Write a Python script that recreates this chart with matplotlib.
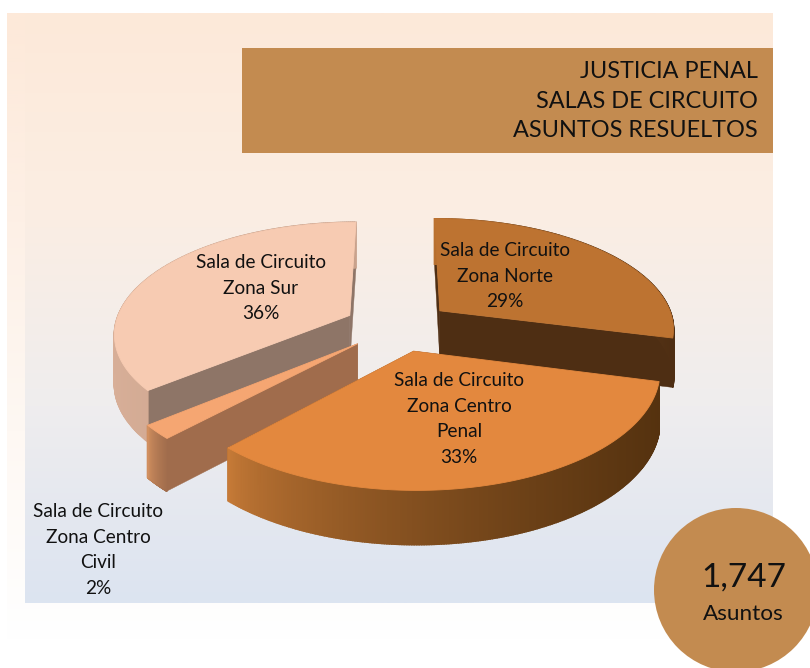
#pie 3d style, drawn by hand since matplotlib has no exploded 3d pie
import matplotlib
matplotlib.use('Agg')
import matplotlib.pyplot as plt
import numpy as np
from matplotlib.colors import LinearSegmentedColormap, to_rgb
from matplotlib.patches import Circle, Rectangle

names=['Sala de Circuito\nZona Norte','Sala de Circuito\nZona Centro\nPenal','Sala de Circuito\nZona Centro\nCivil','Sala de Circuito\nZona Sur']
values=[29,33,2,36]
title_lines=['JUSTICIA PENAL','SALAS DE CIRCUITO','ASUNTOS RESUELTOS']
total='1,747'
total_label='Asuntos'

top_colors=['#BD7331','#E3883E','#F5A672','#F7CBB2']
wall_colors=['#4E2E13','#4E2E13','#A06C4C','#8E7567']
side_left=['#BD7331','#C97C38','#D2905F','#D8AF98']
side_right=['#4E2E13','#55320F','#A06C4C','#C9A28C']
label_pos=[(505,276),(459,419),(98,550),(261,288)]

plt.rcParams['font.family']=['Lato','DejaVu Sans']
fig=plt.figure(figsize=(8.1,6.68),dpi=100)
ax=fig.add_axes([0,0,1,1])
ax.set_xlim(0,810)
ax.set_ylim(668,0)
ax.axis('off')

# backgrounds
fade=LinearSegmentedColormap.from_list('fade',['#FDE9D9','#FDF0E6','#FEF8F3','#FFFFFF'])
panel=LinearSegmentedColormap.from_list('panel',['#FDE9D9','#FBEEE3','#EFEDEE','#DCE4F1'])
grad=np.linspace(0,1,256).reshape(-1,1)
ax.imshow(grad,cmap=fade,extent=(7,773,640,13),aspect='auto',zorder=0)
ax.imshow(grad,cmap=panel,extent=(25,773,603,13),aspect='auto',zorder=1)
ax.set_xlim(0,810)
ax.set_ylim(668,0)

# projection of the pie plane on to the screen
cx,cy=398,326
b,a,k=235,110,0.15
explode=0.23
depth=49

def project(u,v):
    w=1-k*v
    return cx+b*u/w,cy+a*v/w,depth/np.sqrt(w)

def shade(c1,c2,t):
    return tuple((1-t)*np.array(to_rgb(c1))+t*np.array(to_rgb(c2)))

edges=np.cumsum([0]+values)/sum(values)*2*np.pi
# back slices first, front slice last
order=[3,0,2,1]
for i in order:
    a0,a1=edges[i],edges[i+1]
    mid=(a0+a1)/2
    ou,ov=explode*np.sin(mid),-explode*np.cos(mid)
    th=np.linspace(a0,a1,240)
    x,y,d=project(ou+np.sin(th),ov-np.cos(th))
    x0,y0,d0=project(ou,ov)
    z=3+order.index(i)
    # walls
    for j in [0,-1]:
        ax.fill([x0,x[j],x[j],x0],[y0,y[j],y[j]+d[j],y0+d0],color=wall_colors[i],lw=0.3,zorder=z)
    # outer side, a colour step for each strip
    left,right=x.min(),x.max()
    for j in range(len(th)-1):
        t=((x[j]+x[j+1])/2-left)/max(right-left,1)
        c=shade(side_left[i],side_right[i],t**0.6)
        ax.fill([x[j],x[j+1],x[j+1],x[j]],[y[j],y[j+1],y[j+1]+d[j+1],y[j]+d[j]],color=c,lw=1.2,zorder=z)
    # top
    ax.fill(np.r_[x0,x],np.r_[y0,y],color=top_colors[i],lw=0.6,zorder=z)

for name,val,pos in zip(names,values,label_pos):
    ax.text(pos[0],pos[1],name+'\n'+str(val)+'%',ha='center',va='center',fontsize=13.7,color='#111111',linespacing=1.62,zorder=10)

# title box and total
ax.add_patch(Rectangle((242,48),531,105,color='#C38B50',lw=0,zorder=11))
ax.text(758,101,'\n'.join(title_lines),ha='right',va='center',fontsize=16.9,color='#111111',linespacing=1.52,zorder=12)
ax.add_patch(Circle((736,590),82,color='#C38B50',lw=0,zorder=11))
ax.text(744,578,total,ha='center',va='center',fontsize=24,color='#111111',zorder=12)
ax.text(743,614,total_label,ha='center',va='center',fontsize=16.2,color='#111111',zorder=12)

fig.savefig('out.png',dpi=100)
